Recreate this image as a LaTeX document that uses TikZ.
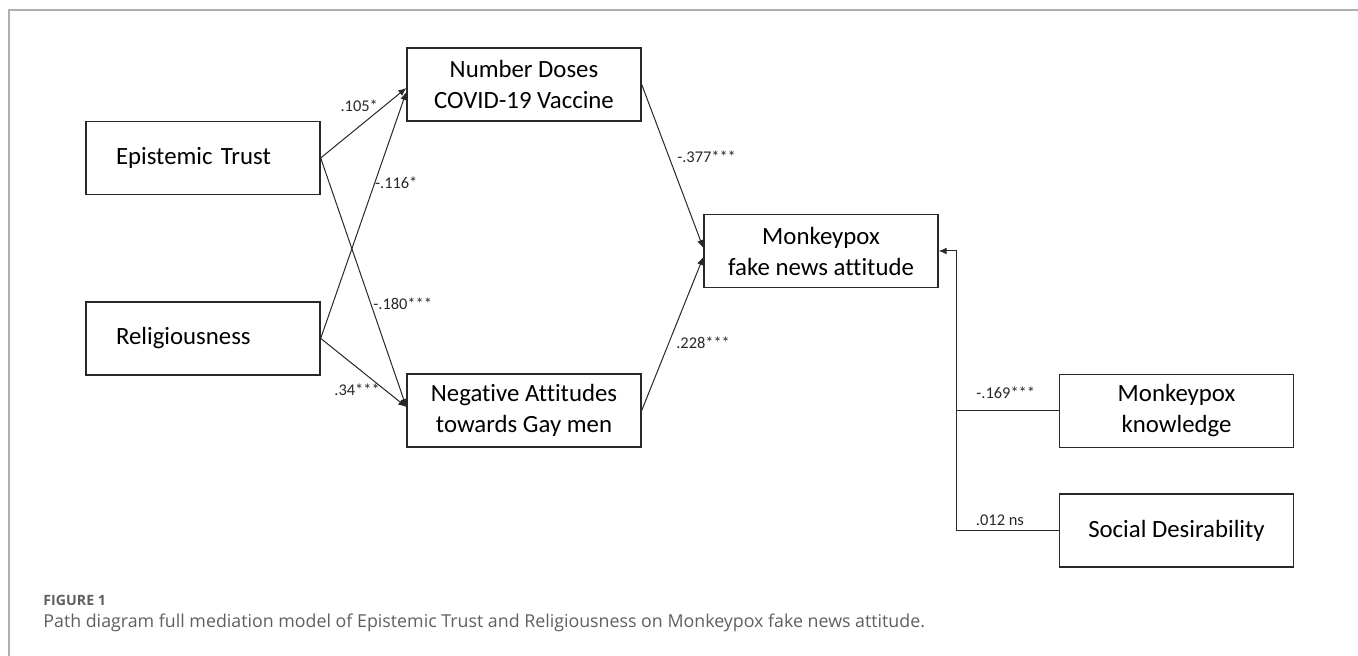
\documentclass[tikz,border=0pt]{standalone}
\usepackage{fontspec}
\setmainfont{Carlito}[Ligatures=NoCommon]
\newfontfamily\capfont{Open Sans}
\usepackage{tikz}
\usetikzlibrary{arrows.meta, calc, positioning}
\definecolor{framegray}{RGB}{175,175,175}
\definecolor{captiongray}{RGB}{95,95,95}
\definecolor{boxline}{RGB}{40,40,40}

\begin{document}
\begin{tikzpicture}[x=0.5pt, y=-0.5pt,
  var/.style={rectangle, draw=boxline, line width=0.7pt, minimum width=117pt, minimum height=36.5pt, inner sep=0pt, align=center, font=\fontsize{12.4}{15.5}\selectfont},
  varleft/.style={var, text width=87pt, inner xsep=15pt, align=left},
  coef/.style={font=\fontsize{8.2}{9}\selectfont, inner sep=0pt, text=boxline},
  arrow/.style={-{Latex[length=4pt, width=3.4pt]}, line width=0.5pt, draw=boxline},
  link/.style={line width=0.5pt, draw=boxline}
]
\useasboundingbox (0,0) rectangle (1358,656);

% --- Rahmen ---
\draw[framegray, line width=0.8pt] (9,656) -- (9,10) -- (1358,10);

% --- Praediktoren ---
\node[varleft] (trust) at (203,158) {Epistemic Trust};
\node[varleft, below=53pt of trust] (relig) {Religiousness};

% --- Mediatoren ---
\node[var] (doses) at (524,84.5) {Number Doses\\COVID-19 Vaccine};
\node[var] (gay)   at (524,410.5) {Negative Attitudes\\towards Gay men};

% --- Outcome + Kovariaten ---
\node[var] (fake) at (821,251) {Monkeypox\\fake news attitude};
\node[var] (know) at (1176.5,411) {Monkeypox\\knowledge};
\node[var, below=22.5pt of know] (desir) {Social Desirability};

\coordinate (junc) at ($(fake.east) + (18,0)$);

% Verbindungen
\draw[arrow] (trust.east) -- ([yshift=-1.75pt]doses.west) node[coef, pos=0.45, above=7pt] {.105*};
\draw[arrow] (relig.east) -- ([yshift=-3.75pt]doses.west) node[coef, pos=0.63, right=0pt] {-.116*};
\draw[arrow] (trust.east) -- ([yshift=1.75pt]gay.west) node[coef, pos=0.586, right=1pt] {-.180***};
\draw[arrow] (relig.east) -- ([yshift=1.75pt]gay.west) node[coef, pos=0.425, below=8pt] {.34***};

\draw[arrow] (doses.east) -- ([yshift=1.5pt]fake.west) node[coef, pos=0.44, right=4pt] {-.377***};
\draw[arrow] (gay.east) -- ([yshift=-3pt]fake.west) node[coef, pos=0.44, right=3.5pt] {.228***};

\draw[link] (know.west) -- (know.west -| junc) node[coef, pos=0.52, above=6pt] {-.169***};
\draw[arrow] (desir.west) -- (desir.west -| junc) node[coef, pos=0.577, above=2pt] {.012 ns} -- (junc) -- (fake.east);

% --- Caption ---
\node[anchor=base west, inner sep=0pt, font=\capfont\bfseries\fontsize{7.1}{8}\selectfont, text=captiongray] (figlabel) at (43,605) {FIGURE 1};
\node[anchor=base west, inner sep=0pt, font=\capfont\fontsize{8.9}{10}\selectfont, text=captiongray] (caption) at (43,627) {Path diagram full mediation model of Epistemic Trust and Religiousness on Monkeypox fake news attitude.};
\end{tikzpicture}
\end{document}
